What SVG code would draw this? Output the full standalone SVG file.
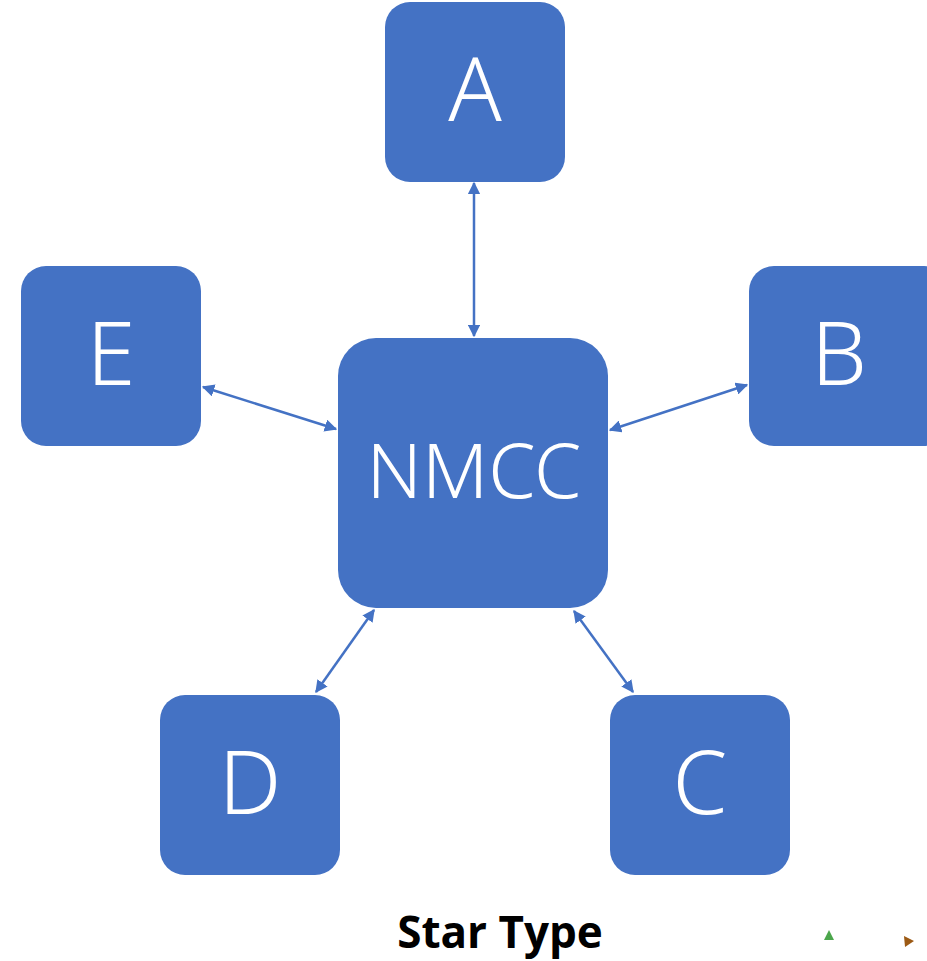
<svg xmlns="http://www.w3.org/2000/svg" width="927" height="961" viewBox="0 0 927 961">
<style>
.n{fill:#4472C4}
.t{fill:#fff;font-family:"Noto Sans","Open Sans",sans-serif;text-anchor:middle;font-weight:300}
.c{stroke:#4472C4;stroke-width:2.5;fill:none;marker-start:url(#ah);marker-end:url(#ah)}
</style>
<defs>
<marker id="ah" viewBox="0 0 10 10" refX="9" refY="5" markerWidth="5" markerHeight="5" orient="auto-start-reverse" markerUnits="strokeWidth">
<path d="M0,0 L10,5 L0,10 z" fill="#4472C4"/>
</marker>
</defs>
<rect width="927" height="961" fill="#fff"/>
<g id="connectors">
<line class="c" x1="474" y1="183" x2="474" y2="336"/>
<line class="c" x1="203" y1="387" x2="336" y2="429"/>
<line class="c" x1="610" y1="430" x2="747" y2="385"/>
<line class="c" x1="374" y1="610" x2="316" y2="692"/>
<line class="c" x1="574" y1="611" x2="633" y2="692"/>
</g>
<g id="nmcc"><rect class="n" x="338" y="338" width="270" height="270" rx="38"/><text class="t" x="474" y="498" font-size="76">NMCC</text></g>
<g id="a"><rect class="n" x="385" y="2" width="180" height="180" rx="25"/><text class="t" x="475" y="121" font-size="88">A</text></g>
<g id="b"><rect class="n" x="749" y="266" width="200" height="180" rx="25"/><text class="t" x="839" y="385" font-size="88">B</text></g>
<g id="c"><rect class="n" x="610" y="695" width="180" height="180" rx="25"/><text class="t" x="700" y="814" font-size="88">C</text></g>
<g id="d"><rect class="n" x="160" y="695" width="180" height="180" rx="25"/><text class="t" x="250" y="814" font-size="88">D</text></g>
<g id="e"><rect class="n" x="21" y="266" width="180" height="180" rx="25"/><text class="t" x="111" y="385" font-size="88">E</text></g>
<text x="500" y="948" font-family="'Open Sans','Noto Sans',sans-serif" font-weight="bold" font-size="44" text-anchor="middle" fill="#000">Star Type</text>
<path d="M824,940 L829,930 L834,940 z" fill="#4CA64C"/>
<path d="M904,936 L914,941 L905,947 z" fill="#9C5A14"/>
</svg>
